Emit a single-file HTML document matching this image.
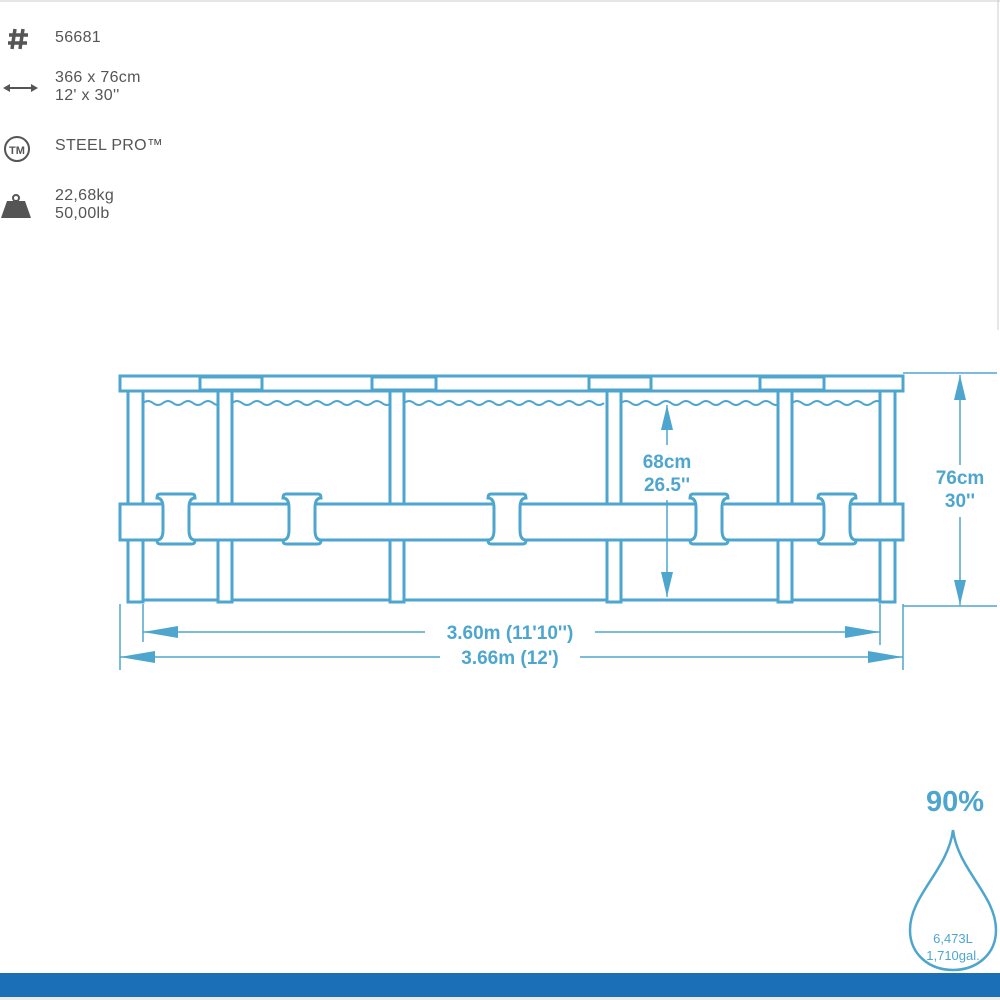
<!DOCTYPE html>
<html><head><meta charset="utf-8"><style>
html,body{margin:0;padding:0;background:#fff;}
.wrap{position:relative;width:1000px;height:1000px;overflow:hidden;font-family:"Liberation Sans",sans-serif;}
.t{position:absolute;color:#555;font-size:16px;line-height:18px;letter-spacing:0.3px}
</style></head><body><div class="wrap">
<svg width="1000" height="1000" style="position:absolute;left:0;top:0">
<line x1="0" y1="1" x2="1000" y2="1" stroke="#ccc" stroke-width="1"/>
<line x1="998" y1="0" x2="998" y2="330" stroke="#ccc" stroke-width="1"/>
<g stroke="#555" stroke-width="3.5">
<line x1="15" y1="29" x2="12" y2="49"/><line x1="23" y1="29" x2="20" y2="49"/>
<line x1="9" y1="35" x2="28" y2="35"/><line x1="8" y1="43" x2="27" y2="43"/>
</g>
<g stroke="#555" stroke-width="2" fill="#555">
<line x1="5" y1="88" x2="36" y2="88"/>
<polygon points="3,88 10,84 10,92" stroke="none"/><polygon points="38,88 31,84 31,92" stroke="none"/>
</g>
<circle cx="17" cy="149" r="12" fill="none" stroke="#555" stroke-width="2"/>
<text x="17" y="154" text-anchor="middle" font-family="Liberation Sans" font-weight="bold" font-size="11" fill="#555">TM</text>
<circle cx="16" cy="198" r="3" fill="none" stroke="#555" stroke-width="2"/>
<polygon points="7,201 25,201 31,218 1,218" fill="#555"/>
<g stroke="#4ea6cf" stroke-width="3" fill="#fff">
<rect x="120" y="376" width="783" height="15"/>
<rect x="200" y="377" width="62" height="13"/>
<rect x="372" y="377" width="64" height="13"/>
<rect x="589" y="377" width="62" height="13"/>
<rect x="760" y="377" width="64" height="13"/>
<path d="M143 403 q5 -4 10 0 t10 0 t10 0 t10 0 t10 0 t10 0 t10 0 t10 0 M232 403 q5 -4 10 0 t10 0 t10 0 t10 0 t10 0 t10 0 t10 0 t10 0 t10 0 t10 0 t10 0 t10 0 t10 0 t10 0 t10 0 t10 0 M404 403 q5 -4 10 0 t10 0 t10 0 t10 0 t10 0 t10 0 t10 0 t10 0 t10 0 t10 0 t10 0 t10 0 t10 0 t10 0 t10 0 t10 0 t10 0 t10 0 t10 0 t10 0 M621 403 q5 -4 10 0 t10 0 t10 0 t10 0 t10 0 t10 0 t10 0 t10 0 t10 0 t10 0 t10 0 t10 0 t10 0 t10 0 t10 0 t10 0 M792 403 q5 -4 10 0 t10 0 t10 0 t10 0 t10 0 t10 0 t10 0 t10 0 t10 0" fill="none" stroke-width="2"/>
<line x1="143" y1="600" x2="880" y2="600"/>
<rect x="128" y="391" width="15" height="211"/>
<rect x="218" y="391" width="14" height="211"/>
<rect x="390" y="391" width="14" height="211"/>
<rect x="607" y="391" width="14" height="211"/>
<rect x="778" y="391" width="14" height="211"/>
<rect x="880" y="391" width="15" height="211"/>
<rect x="120" y="504" width="783" height="36"/>
</g>
<g stroke="#4ea6cf" stroke-width="3" fill="#fff">
<path d="M160 494 h32 q3 0 3 4 q-6 0 -6 10 v22 q0 10 6 10 q0 4 -3 4 h-32 q-3 0 -3 -4 q6 0 6 -10 v-22 q0 -10 -6 -10 q0 -4 3 -4z"/>
<path d="M286 494 h32 q3 0 3 4 q-6 0 -6 10 v22 q0 10 6 10 q0 4 -3 4 h-32 q-3 0 -3 -4 q6 0 6 -10 v-22 q0 -10 -6 -10 q0 -4 3 -4z"/>
<path d="M491 494 h32 q3 0 3 4 q-6 0 -6 10 v22 q0 10 6 10 q0 4 -3 4 h-32 q-3 0 -3 -4 q6 0 6 -10 v-22 q0 -10 -6 -10 q0 -4 3 -4z"/>
<path d="M693 494 h32 q3 0 3 4 q-6 0 -6 10 v22 q0 10 6 10 q0 4 -3 4 h-32 q-3 0 -3 -4 q6 0 6 -10 v-22 q0 -10 -6 -10 q0 -4 3 -4z"/>
<path d="M821 494 h32 q3 0 3 4 q-6 0 -6 10 v22 q0 10 6 10 q0 4 -3 4 h-32 q-3 0 -3 -4 q6 0 6 -10 v-22 q0 -10 -6 -10 q0 -4 3 -4z"/>
</g>
<g stroke="#4ea6cf" stroke-width="1.5" fill="#4ea6cf">
<line x1="903" y1="373" x2="997" y2="373"/><line x1="903" y1="606" x2="997" y2="606"/>
<line x1="960" y1="375" x2="960" y2="465"/><line x1="960" y1="517" x2="960" y2="605"/>
<polygon points="960,375 954,400 966,400" stroke="none"/><polygon points="960,605 954,580 966,580" stroke="none"/>
<line x1="667" y1="405" x2="667" y2="445"/><line x1="667" y1="500" x2="667" y2="597"/>
<polygon points="667,405 661,430 673,430" stroke="none"/><polygon points="667,597 661,572 673,572" stroke="none"/>
<line x1="143" y1="604" x2="143" y2="642"/><line x1="880" y1="604" x2="880" y2="645"/>
<line x1="120" y1="604" x2="120" y2="670"/><line x1="903" y1="604" x2="903" y2="670"/>
<line x1="143" y1="632" x2="425" y2="632"/><line x1="595" y1="632" x2="880" y2="632"/>
<polygon points="143,632 178,626 178,638" stroke="none"/><polygon points="880,632 845,626 845,638" stroke="none"/>
<line x1="120" y1="657" x2="440" y2="657"/><line x1="580" y1="657" x2="903" y2="657"/>
<polygon points="120,657 155,651 155,663" stroke="none"/><polygon points="903,657 868,651 868,663" stroke="none"/>
</g>
<g font-family="Liberation Sans" font-weight="bold" fill="#4ea6cf" text-anchor="middle" font-size="19">
<text x="667" y="468">68cm</text><text x="667" y="491">26.5''</text>
<text x="960" y="484">76cm</text><text x="960" y="507">30''</text>
<text x="510" y="639">3.60m (11'10'')</text>
<text x="510" y="664">3.66m (12')</text>
<text x="955" y="811" font-size="29">90%</text>
</g>
<path d="M953 830 C948 870 910 895 910 930 C910 955 930 970 953 970 C976 970 996 955 996 930 C996 895 958 870 953 830Z" fill="none" stroke="#4ea6cf" stroke-width="2.5"/>
<g font-family="Liberation Sans" fill="#4ea6cf" text-anchor="middle" font-size="13">
<text x="953" y="943">6,473L</text><text x="953" y="960">1,710gal.</text>
</g>
<rect x="0" y="973" width="1000" height="24" fill="#1b6fb6"/>
<rect x="0" y="997" width="1000" height="3" fill="#e6ece8"/>
</svg>
<div class="t" style="left:55px;top:29px">56681</div>
<div class="t" style="left:55px;top:69px">366 x 76cm<br>12' x 30''</div>
<div class="t" style="left:55px;top:137px">STEEL PRO™</div>
<div class="t" style="left:55px;top:187px">22,68kg<br>50,00lb</div>
</div></body></html>
